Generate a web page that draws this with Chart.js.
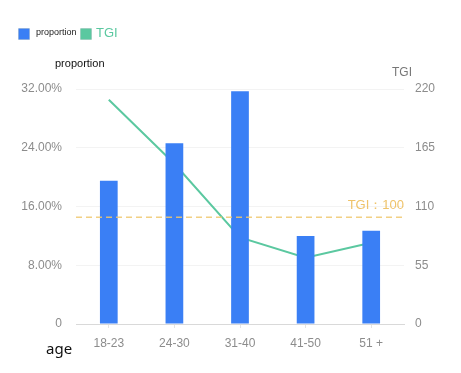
<!DOCTYPE html>
<html>
<head>
<meta charset="utf-8">
<script src="https://cdn.jsdelivr.net/npm/chart.js@4"></script>
<style>
html,body{margin:0;padding:0;background:#fff;}
#wrap{position:relative;width:461px;height:373px;}
canvas{position:absolute;left:0;top:0;}
.t{position:absolute;white-space:nowrap;}
.sq{position:absolute;width:10px;height:10px;border-radius:1px;}
</style>
</head>
<body>
<div id="wrap">
<canvas id="c" width="461" height="373"></canvas>
<div class="sq" style="left:18px;top:28px;background:#3a7ff5;border:1px solid #8fb0e0;"></div>
<div class="t" style="left:36px;top:27px;font:9px 'Liberation Sans',Arial,sans-serif;color:#222;">proportion</div>
<div class="sq" style="left:80px;top:28px;background:#5bc8a0;border:1px solid #9ccfbf;"></div>
<div class="t" style="left:96px;top:25px;font:13px 'Liberation Sans',Arial,sans-serif;color:#5bc8a0;">TGI</div>
<div class="t" style="left:55px;top:57px;font:11px 'Liberation Sans',Arial,sans-serif;color:#111;">proportion</div>
<div class="t" style="left:392px;top:65px;font:12px 'Liberation Sans',Arial,sans-serif;color:#777;">TGI</div>
<div class="t" style="left:46px;top:338px;font:15px 'Noto Sans',sans-serif;color:#111;">age</div>
</div>
<script>
const categories = ['18-23', '24-30', '31-40', '41-50', '51 +'];
const proportion = [19.5, 24.6, 31.7, 12.0, 12.7];
const tgi = [210, 150, 81, 62, 76];
const tgiBaseline = 100;
const leftTicks = [0, 8, 16, 24, 32];
const rightTicks = [0, 55, 110, 165, 220];

const refLine = {
  id: 'refLine',
  afterDatasetsDraw(chart) {
    const {ctx, chartArea} = chart;
    const y = chart.scales.y1.getPixelForValue(tgiBaseline);
    ctx.save();
    ctx.strokeStyle = 'rgba(240,200,110,0.85)';
    ctx.lineWidth = 1.5;
    ctx.setLineDash([6, 4]);
    ctx.beginPath();
    ctx.moveTo(chartArea.left, y);
    ctx.lineTo(chartArea.right, y);
    ctx.stroke();
    ctx.setLineDash([]);
    ctx.fillStyle = '#efc36a';
    ctx.font = "13px 'Liberation Sans', Arial, sans-serif";
    ctx.textAlign = 'right';
    ctx.textBaseline = 'bottom';
    ctx.fillText('TGI：' + tgiBaseline, chartArea.right, y - 5);
    ctx.restore();
  }
};

new Chart(document.getElementById('c'), {
  data: {
    labels: categories,
    datasets: [
      {
        type: 'line',
        label: 'TGI',
        data: tgi,
        yAxisID: 'y1',
        borderColor: '#5bc8a0',
        borderWidth: 2,
        pointRadius: 0,
        tension: 0,
        order: 2
      },
      {
        type: 'bar',
        label: 'proportion',
        data: proportion,
        yAxisID: 'y',
        backgroundColor: '#3a7ff5',
        barPercentage: 0.27,
        categoryPercentage: 1,
        order: 1
      }
    ]
  },
  options: {
    responsive: false,
    animation: false,
    layout: {padding: {top: 89, left: 0, right: 0, bottom: 0}},
    plugins: {legend: {display: false}, tooltip: {enabled: false}},
    scales: {
      x: {
        afterFit(s) { s.height = 49; },
        grid: {offset: false, drawOnChartArea: false, drawTicks: true, tickLength: 4, color: '#e4e4e4'},
        border: {color: '#d9d9d9'},
        ticks: {color: '#8c8c8c', padding: 8, font: {family: "'Liberation Sans', Arial, sans-serif", size: 12}}
      },
      y: {
        position: 'left',
        min: 0, max: 32,
        afterFit(s) { s.width = 76; },
        afterBuildTicks(s) { s.ticks = leftTicks.map(v => ({value: v})); },
        grid: {color: '#f3f3f3', drawTicks: false},
        border: {display: false},
        ticks: {
          color: '#8c8c8c', padding: 14,
          font: {family: "'Liberation Sans', Arial, sans-serif", size: 12},
          callback: v => v === 0 ? '0' : v.toFixed(2) + '%'
        }
      },
      y1: {
        position: 'right',
        min: 0, max: 220,
        afterFit(s) { s.width = 57; },
        afterBuildTicks(s) { s.ticks = rightTicks.map(v => ({value: v})); },
        grid: {drawOnChartArea: false, drawTicks: false},
        border: {display: false},
        ticks: {color: '#8c8c8c', padding: 11, font: {family: "'Liberation Sans', Arial, sans-serif", size: 12}}
      }
    }
  },
  plugins: [refLine]
});
</script>
</body>
</html>
